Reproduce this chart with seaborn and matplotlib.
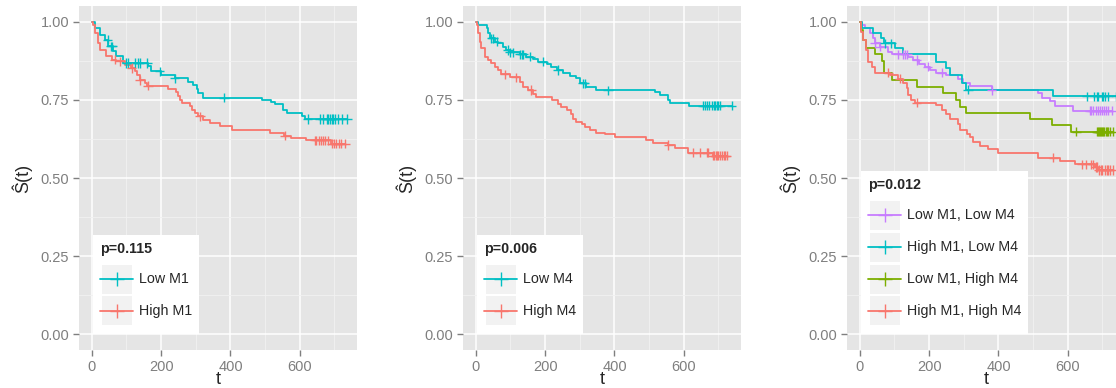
import numpy as np
import pandas as pd
import matplotlib
matplotlib.use("Agg")
import matplotlib.pyplot as plt
import seaborn as sns
from matplotlib.legend_handler import HandlerLine2D
from matplotlib.lines import Line2D
from matplotlib.patches import Rectangle
from matplotlib.ticker import MultipleLocator

# ---------------- data ----------------
# Panel 1: M1
p1_low_t = [9, 23, 37, 47, 62, 71, 90, 163, 172, 201, 239, 278, 292, 302, 307, 321, 492, 518, 528, 552, 562, 605, 614]
p1_low_s = [0.979, 0.957, 0.942, 0.921, 0.905, 0.889, 0.868, 0.857, 0.841, 0.830, 0.819, 0.808, 0.798, 0.784, 0.771,
            0.757, 0.750, 0.744, 0.737, 0.718, 0.707, 0.699, 0.689]
p1_low_c = [46, 55, 58, 100, 104, 124, 133, 138, 159, 196, 239, 381, 623, 658, 666, 678, 681, 687, 692, 695, 701,
            710, 721, 736]
p1_high_t = [2, 9, 18, 23, 42, 57, 71, 95, 114, 124, 129, 138, 153, 158, 220, 244, 249, 254, 259, 283, 290, 297,
             307, 321, 340, 369, 403, 513, 553, 576, 619, 690]
p1_high_s = [0.99, 0.964, 0.932, 0.910, 0.889, 0.878, 0.873, 0.862, 0.852, 0.841, 0.830, 0.812, 0.803, 0.795,
             0.784, 0.774, 0.761, 0.750, 0.739, 0.731, 0.718, 0.707, 0.697, 0.686, 0.675, 0.665, 0.654, 0.643,
             0.635, 0.627, 0.620, 0.610]
p1_high_c = [66, 81, 115, 138, 162, 312, 557, 643, 648, 655, 662, 668, 674, 681, 692, 698, 704, 712, 720, 730]

# Panel 2: M4
p2_low_t = [7, 31, 36, 40, 55, 64, 79, 88, 98, 127, 146, 165, 180, 204, 218, 233, 252, 271, 290, 300, 319, 348,
            516, 531, 554, 560, 614]
p2_low_s = [0.989, 0.979, 0.963, 0.947, 0.936, 0.931, 0.920, 0.909, 0.902, 0.895, 0.888, 0.879, 0.872, 0.863,
            0.856, 0.845, 0.837, 0.826, 0.819, 0.803, 0.790, 0.780, 0.774, 0.764, 0.750, 0.741, 0.731]
p2_low_c = [45, 50, 60, 93, 98, 108, 127, 132, 136, 156, 194, 237, 309, 314, 381, 655, 660, 668, 674, 680, 686,
            690, 695, 700, 704, 738]
p2_high_t = [2, 7, 12, 16, 26, 36, 45, 55, 64, 74, 98, 127, 137, 151, 165, 175, 221, 237, 247, 262, 276, 281,
             290, 305, 314, 329, 348, 372, 401, 491, 510, 554, 574, 612, 684]
p2_high_s = [0.99, 0.963, 0.936, 0.915, 0.888, 0.877, 0.867, 0.856, 0.845, 0.832, 0.822, 0.808, 0.790, 0.781,
             0.768, 0.758, 0.749, 0.736, 0.726, 0.717, 0.706, 0.690, 0.680, 0.672, 0.664, 0.655, 0.645, 0.640,
             0.630, 0.622, 0.613, 0.606, 0.597, 0.581, 0.571]
p2_high_c = [84, 115, 160, 555, 626, 646, 666, 670, 684, 688, 692, 695, 700, 705, 710, 715, 720, 724]

# Panel 3: M1 x M4
p3_ll_t = [5, 14, 29, 37, 43, 58, 82, 94, 139, 154, 171, 187, 202, 221, 250, 284, 298, 317, 380, 513, 525, 550,
           562, 615]
p3_ll_s = [0.989, 0.979, 0.963, 0.947, 0.931, 0.920, 0.904, 0.896, 0.888, 0.877, 0.864, 0.856, 0.845, 0.837,
           0.829, 0.818, 0.805, 0.794, 0.780, 0.771, 0.755, 0.745, 0.729, 0.715]
p3_ll_c = [43, 58, 110, 124, 130, 136, 164, 196, 236, 380, 663, 668, 674, 680, 686, 692, 698, 704, 710, 716, 727]
p3_hl_t = [5, 38, 62, 69, 101, 125, 219, 250, 260, 296, 306, 556]
p3_hl_s = [0.979, 0.963, 0.947, 0.931, 0.917, 0.895, 0.872, 0.851, 0.829, 0.803, 0.782, 0.761]
p3_hl_c = [72, 91, 312, 654, 677, 683, 687, 698, 701, 707, 716, 738]
p3_lh_t = [3, 10, 17, 43, 65, 69, 94, 165, 240, 277, 288, 306, 492, 553, 608]
p3_lh_s = [0.973, 0.941, 0.917, 0.896, 0.874, 0.835, 0.813, 0.792, 0.771, 0.749, 0.728, 0.709, 0.688, 0.668,
           0.648]
p3_lh_c = [625, 683, 686, 689, 692, 695, 698, 701, 705, 709, 713, 717, 721, 730]
p3_hh_t = [3, 8, 17, 24, 34, 43, 87, 111, 125, 135, 139, 149, 159, 219, 236, 250, 260, 284, 288, 308, 317, 327,
           346, 370, 398, 513, 577, 620, 678, 687]
p3_hh_s = [0.968, 0.941, 0.909, 0.872, 0.856, 0.837, 0.829, 0.818, 0.803, 0.787, 0.765, 0.751, 0.741, 0.733,
           0.717, 0.704, 0.690, 0.674, 0.655, 0.642, 0.630, 0.616, 0.602, 0.593, 0.579, 0.565, 0.554, 0.544,
           0.535, 0.526]
p3_hh_c = [82, 115, 164, 558, 640, 652, 668, 672, 680, 685, 690, 695, 700, 706, 712, 716, 721, 730]

p_values = ["p=0.115", "p=0.006", "p=0.012"]

RED, CYAN, GREEN, PURPLE = "#F8766D", "#00BFC4", "#7CAE00", "#C77CFF"

panels = [
    dict(p=p_values[0], curves=[("Low M1", p1_low_t, p1_low_s, p1_low_c, CYAN),
                                ("High M1", p1_high_t, p1_high_s, p1_high_c, RED)]),
    dict(p=p_values[1], curves=[("Low M4", p2_low_t, p2_low_s, p2_low_c, CYAN),
                                ("High M4", p2_high_t, p2_high_s, p2_high_c, RED)]),
    dict(p=p_values[2], curves=[("Low M1, Low M4", p3_ll_t, p3_ll_s, p3_ll_c, PURPLE),
                                ("High M1, Low M4", p3_hl_t, p3_hl_s, p3_hl_c, CYAN),
                                ("Low M1, High M4", p3_lh_t, p3_lh_s, p3_lh_c, GREEN),
                                ("High M1, High M4", p3_hh_t, p3_hh_s, p3_hh_c, RED)]),
]

# ---------------- style ----------------
sns.set_style("darkgrid", {"axes.facecolor": "#E5E5E5", "grid.color": "white"})
plt.rcParams["font.family"] = ["Liberation Sans", "DejaVu Sans"]

FS = 10.3


class KeyHandler(HandlerLine2D):
    def create_artists(self, legend, orig_handle, xdescent, ydescent, width, height, fontsize, trans):
        arts = super().create_artists(legend, orig_handle, xdescent, ydescent, width, height, fontsize, trans)
        yc = height / 2 - ydescent
        for a in arts:
            a.set_ydata(np.full_like(np.asarray(a.get_xdata(), dtype=float), yc))
        r = Rectangle((-xdescent + 1, -ydescent + 1), width - 2, height - 2, facecolor="#F2F2F2",
                      edgecolor="none", transform=trans)
        return [r] + list(arts)


fig = plt.figure(figsize=(11.16, 3.88), dpi=100)
lefts = [79, 463, 847]
for i, pan in enumerate(panels):
    ax = fig.add_axes([lefts[i] / 1116, 1 - 350 / 388, 278 / 1116, 344 / 388])
    step_rows, cens_rows = [], []
    order, pal = [], {}
    for name, t, s, c, col in pan["curves"]:
        order.append(name)
        pal[name] = col
        end = max(c)
        xs = [0] + list(t) + [end]
        ys = [1.0] + list(s) + [s[-1]]
        step_rows += [(name, a, b) for a, b in zip(xs, ys)]
        idx = np.searchsorted(np.asarray(t), np.asarray(c), side="right")
        cs = np.r_[1.0, s][idx]
        cens_rows += [(name, a, b) for a, b in zip(c, cs)]
    sdf = pd.DataFrame(step_rows, columns=["group", "t", "S"])
    cdf = pd.DataFrame(cens_rows, columns=["group", "t", "S"])
    sns.lineplot(data=sdf, x="t", y="S", hue="group", hue_order=order, palette=pal, estimator=None,
                 sort=False, drawstyle="steps-post", lw=1.3, legend=False, ax=ax)
    sns.scatterplot(data=cdf, x="t", y="S", hue="group", hue_order=order, palette=pal, marker="+",
                    s=45, linewidth=1.0, legend=False, ax=ax, zorder=3)

    ax.set_xlim(-37, 765)
    ax.set_ylim(-0.05, 1.05)
    ax.xaxis.set_major_locator(MultipleLocator(200))
    ax.xaxis.set_minor_locator(MultipleLocator(100))
    ax.yaxis.set_major_locator(MultipleLocator(0.25))
    ax.yaxis.set_minor_locator(MultipleLocator(0.125))
    ax.set_yticklabels([f"{v:.2f}" for v in ax.get_yticks()])
    ax.grid(which="major", color="white", lw=1.1)
    ax.grid(which="minor", color="#F2F2F2", lw=0.6)
    ax.set_axisbelow(True)
    for sp in ax.spines.values():
        sp.set_visible(False)
    ax.tick_params(which="major", length=4, width=1, color="#7F7F7F", labelcolor="#7F7F7F",
                   labelsize=10.5, pad=3, bottom=True, left=True)
    ax.tick_params(which="minor", length=0)
    ax.set_xlabel("t", fontsize=13, labelpad=-2)
    ax.set_ylabel("Ŝ(t)", fontsize=13, labelpad=6)

    handles = [Line2D([], [], color=col, lw=1.3, marker="+", markersize=10, markeredgewidth=1.0)
               for (_, _, _, _, col) in pan["curves"]]
    leg = ax.legend(handles, order, loc="lower left", bbox_to_anchor=(14 / 278, 16 / 344),
                    borderaxespad=0, frameon=True, fancybox=False, framealpha=1, facecolor="white",
                    edgecolor="white", fontsize=FS, title=pan["p"],
                    title_fontproperties={"weight": "bold", "size": FS}, alignment="left",
                    handlelength=2.3, handleheight=3.05, labelspacing=0.0, handletextpad=0.4,
                    borderpad=0.5, numpoints=1, handler_map={Line2D: KeyHandler()})
    leg.get_frame().set_linewidth(0)
    leg._legend_box.sep = 5

fig.savefig("out.png", dpi=100)
